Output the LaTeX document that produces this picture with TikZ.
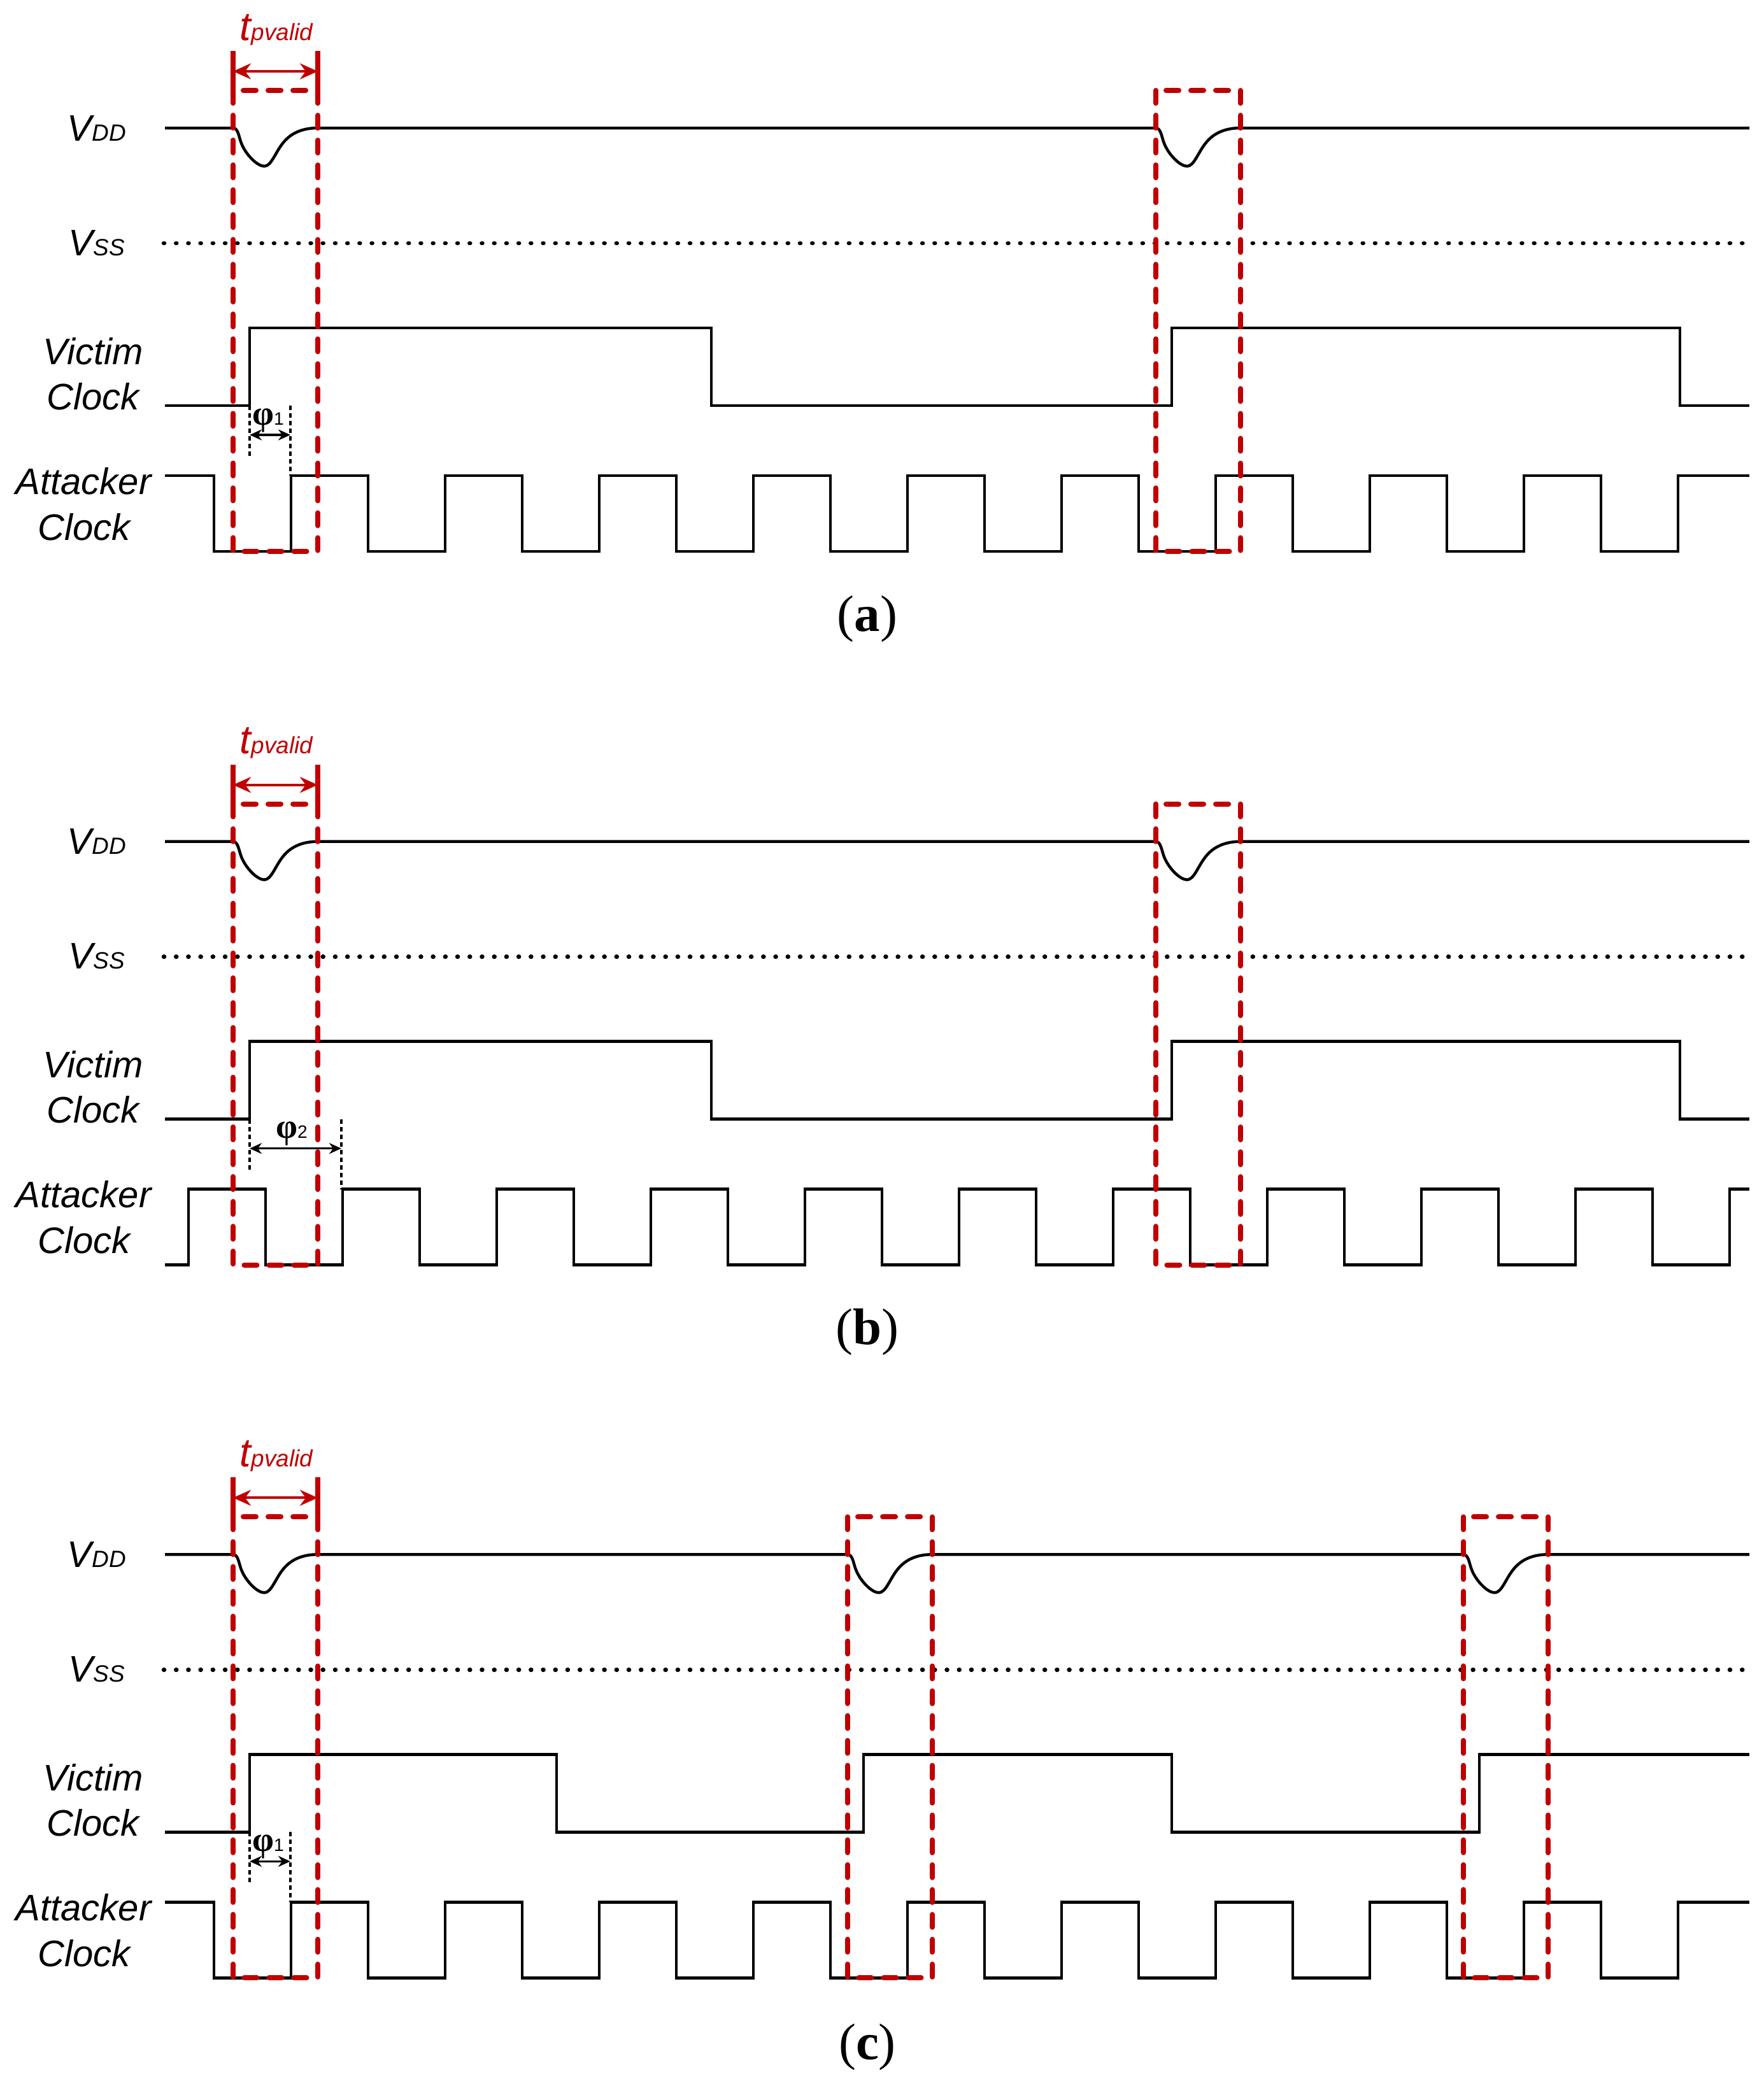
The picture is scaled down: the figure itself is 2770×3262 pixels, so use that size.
\documentclass[tikz,border=0pt]{standalone}
\usepackage{fontspec}
\setmainfont{Liberation Serif}
\newfontfamily\labfont{Liberation Sans}
\usetikzlibrary{arrows.meta}
\definecolor{darkred}{HTML}{C00000}
\tikzset{
 sig/.style={line width=0.045cm, line join=miter},
 vssline/.style={line width=0.065cm, line cap=round, dash pattern=on 0.01cm off 0.182cm},
 redbox/.style={draw=darkred, line width=0.08cm, line cap=round, dash pattern=on 0.2cm off 0.19cm},
 redsolid/.style={draw=darkred, line width=0.08cm},
 redarrow/.style={draw=darkred, line width=0.04cm, {Stealth[length=0.28cm,width=0.25cm]}-{Stealth[length=0.28cm,width=0.25cm]}},
 philine/.style={line width=0.035cm, dash pattern=on 0.07cm off 0.05cm},
 phiarrow/.style={line width=0.035cm, {Stealth[length=0.19cm,width=0.17cm]}-{Stealth[length=0.19cm,width=0.17cm]}},
 lab/.style={font=\labfont\itshape\fontsize{16.5}{18}\selectfont, inner sep=0pt, anchor=base},
 tlab/.style={font=\labfont\itshape, text=darkred, inner sep=0pt, anchor=base},
 philab/.style={inner sep=0pt, anchor=base},
 caption/.style={font=\fontsize{23}{26}\selectfont, inner sep=0pt, anchor=base},
 droop/.style={insert path={.. controls ({#1+8},201) and ({#1+9},215) .. ({#1+13},225) .. controls ({#1+20},243) and ({#1+38},261) .. ({#1+49},261) .. controls ({#1+60},261) and ({#1+66},240) .. ({#1+78},225) .. controls ({#1+92},207) and ({#1+112},201) .. ({#1+133},201)}},
}
\newcommand\sigslabels[1]{%
 \node[lab, anchor=base west] (vdd#1) at (105,221) {V{\fontsize{10.5}{12}\selectfont DD}};
 \node[lab, anchor=base west] (vss#1) at (107,401) {V{\fontsize{10.5}{12}\selectfont SS}};
 \node[lab] (vic#1) at (146,572) {Victim};
 \node[lab] (vicclk#1) at (146,643) {Clock};
 \node[lab] (att#1) at (131,776) {Attacker};
 \node[lab] (attclk#1) at (132,848) {Clock};
 \draw[vssline] (257,382) -- (2738,382);
 \node[tlab] (tp#1) at (434,63) {{\fontsize{18}{19}\selectfont t}{\fontsize{10.5}{12}\selectfont pvalid}};
 \draw[redsolid] (366,80) -- (366,142);
 \draw[redsolid] (499,80) -- (499,142);
 \draw[redarrow] (366,112) -- (499,112);
}
\newcommand\philabel[4]{% name, right x, subscript, label x
 \draw[philine] (392,637) -- (392,720);
 \draw[philine] (#2,637) -- (#2,747);
 \draw[phiarrow] (392,683) -- (#2,683);
 \node[philab] (#1) at (#4,667) {{\fontsize{15.5}{16}\selectfont\bfseries φ}{\labfont\fontsize{8}{9}\selectfont #3}};
}
\begin{document}
\begin{tikzpicture}[x=0.01cm,y=-0.01cm]
\useasboundingbox (0,0) rectangle (2770,3262);
\fill[white] (0,0) rectangle (2770,3262);

% ---------------- panel (a)
\begin{scope}
 \sigslabels{a}
 \draw[sig] (259,201) -- (366,201) [droop=366] -- (1815,201) [droop=1815] -- (2747,201);
 \draw[sig] (259,637) -- (392,637) -- (392,515) -- (1117,515) -- (1117,637) -- (1840,637) -- (1840,515) -- (2638,515) -- (2638,637) -- (2747,637);
 \draw[sig] (259,747) \foreach \k in {0,...,9} { -- ({336+242*\k},747) -- ({336+242*\k},866) -- ({457+242*\k},866) -- ({457+242*\k},747) } -- (2747,747);
 \philabel{phia}{456}{1}{421}
 \draw[redbox] (366,142) rectangle (499,866);
 \draw[redbox] (1815,142) rectangle (1948,866);
 \node[caption] (capa) at (1362,991) {(\textbf{a})};
\end{scope}

% ---------------- panel (b)
\begin{scope}[yshift=-11.2cm]
 \sigslabels{b}
 \draw[sig] (259,201) -- (366,201) [droop=366] -- (1815,201) [droop=1815] -- (2747,201);
 \draw[sig] (259,637) -- (392,637) -- (392,515) -- (1117,515) -- (1117,637) -- (1840,637) -- (1840,515) -- (2638,515) -- (2638,637) -- (2747,637);
 \draw[sig] (259,866) \foreach \k in {0,...,9} { -- ({296+242*\k},866) -- ({296+242*\k},747) -- ({417+242*\k},747) -- ({417+242*\k},866) } -- (2716,866) -- (2716,747) -- (2747,747);
 \philabel{phib}{536}{2}{458}
 \draw[redbox] (366,142) rectangle (499,866);
 \draw[redbox] (1815,142) rectangle (1948,866);
 \node[caption] (capb) at (1362,991) {(\textbf{b})};
\end{scope}

% ---------------- panel (c)
\begin{scope}[yshift=-22.39cm]
 \sigslabels{c}
 \draw[sig] (259,201) -- (366,201) [droop=366] -- (1331,201) [droop=1331] -- (2298,201) [droop=2298] -- (2747,201);
 \draw[sig] (259,637) -- (392,637) -- (392,515) -- (874,515) -- (874,637) -- (1356,637) -- (1356,515) -- (1840,515) -- (1840,637) -- (2323,637) -- (2323,515) -- (2747,515);
 \draw[sig] (259,747) \foreach \k in {0,...,9} { -- ({336+242*\k},747) -- ({336+242*\k},866) -- ({457+242*\k},866) -- ({457+242*\k},747) } -- (2747,747);
 \philabel{phic}{456}{1}{421}
 \draw[redbox] (366,142) rectangle (499,866);
 \draw[redbox] (1331,142) rectangle (1464,866);
 \draw[redbox] (2298,142) rectangle (2431,866);
 \node[caption] (capc) at (1362,994) {(\textbf{c})};
\end{scope}
\end{tikzpicture}
\end{document}
